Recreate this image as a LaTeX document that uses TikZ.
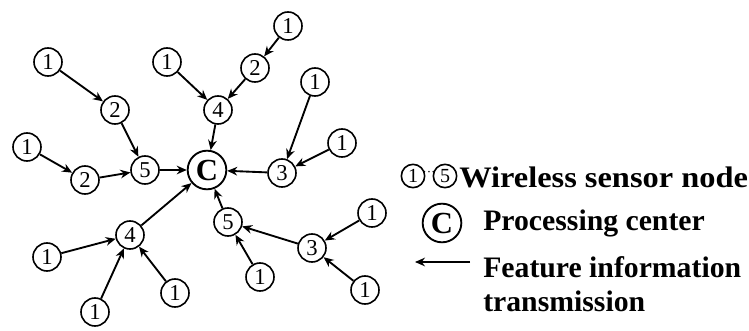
\documentclass[tikz,border=0pt]{standalone}
\usepackage{fontspec}
\setmainfont{Liberation Serif}
\usetikzlibrary{arrows.meta}
\begin{document}
\begin{tikzpicture}[x=0.75pt,y=-0.75pt,
  sn/.style={circle,draw,line width=1.2pt,minimum size=21pt,inner sep=0pt,
    font=\fontsize{17}{17}\selectfont},
  ctr/.style={circle,draw,line width=1.4pt,minimum size=29pt,inner sep=0pt,
    font=\bfseries\fontsize{23}{23}\selectfont},
  lsn/.style={sn,minimum size=17.5pt,font=\fontsize{15}{15}\selectfont},
  link/.style={line width=1.4pt,-{Stealth[length=7.5pt,width=6.5pt]}},
  lbl/.style={anchor=west,inner sep=0pt,align=left,
    font=\bfseries\fontsize{22.3}{26}\selectfont}]
\useasboundingbox (0,0) rectangle (749,331);
% processing center
\node[ctr] (C) at (207,170) {C};
% upper-left branch
\node[sn] (a1) at (48,62) {1};
\node[sn] (a2) at (115,110) {2};
\node[sn] (a5) at (145,170) {5};
\node[sn] (b1) at (27,147) {1};
\node[sn] (b2) at (85,180) {2};
% top branch
\node[sn] (c1) at (167,62) {1};
\node[sn] (c4) at (218,110) {4};
\node[sn] (d2) at (255,68) {2};
\node[sn] (d1) at (288,26) {1};
% right branch
\node[sn] (e1) at (315,82) {1};
\node[sn] (e3) at (282,173) {3};
\node[sn] (f1) at (342,143) {1};
% lower-right branch
\node[sn] (g5) at (228,222) {5};
\node[sn] (g3) at (312,248) {3};
\node[sn] (h1) at (372,213) {1};
\node[sn] (i1) at (365,290) {1};
\node[sn] (j1) at (260,277) {1};
% lower-left branch
\node[sn] (k4) at (130,235) {4};
\node[sn] (l1) at (47,257) {1};
\node[sn] (m1) at (95,312) {1};
\node[sn] (n1) at (175,293) {1};
% transmissions
\draw[link] (a1) -- (a2);
\draw[link] (a2) -- (a5);
\draw[link] (b1) -- (b2);
\draw[link] (b2) -- (a5);
\draw[link] (a5) -- (C);
\draw[link] (c1) -- (c4);
\draw[link] (d1) -- (d2);
\draw[link] (d2) -- (c4);
\draw[link] (c4) -- (C);
\draw[link] (e1) -- (e3);
\draw[link] (f1) -- (e3);
\draw[link] (e3) -- (C);
\draw[link] (h1) -- (g3);
\draw[link] (i1) -- (g3);
\draw[link] (g3) -- (g5);
\draw[link] (j1) -- (g5);
\draw[link] (g5) -- (C);
\draw[link] (l1) -- (k4);
\draw[link] (m1) -- (k4);
\draw[link] (n1) -- (k4);
\draw[link] (k4) -- (C);
% legend
\node[lsn] (L1) at (413,176) {1};
\node[lsn] (L5) at (445,176) {5};
\node[inner sep=0pt,font=\fontsize{10}{10}\selectfont] (Ldots) at (429,174) {\textperiodcentered\textperiodcentered\textperiodcentered};
\node[lbl] (Lt1) at (459,177) {\scalebox{1.09}[1]{Wireless sensor node}};
\node[ctr] (LC) at (442,223) {C};
\node[lbl] (Lt2) at (483,223) {Processing center};
\coordinate (La) at (470,262);
\coordinate (Lb) at (415,262);
\draw[link] (La) -- (Lb);
\node[lbl,anchor=north west] (Lt3) at (483,256) {Feature information\\transmission};
\end{tikzpicture}
\end{document}
